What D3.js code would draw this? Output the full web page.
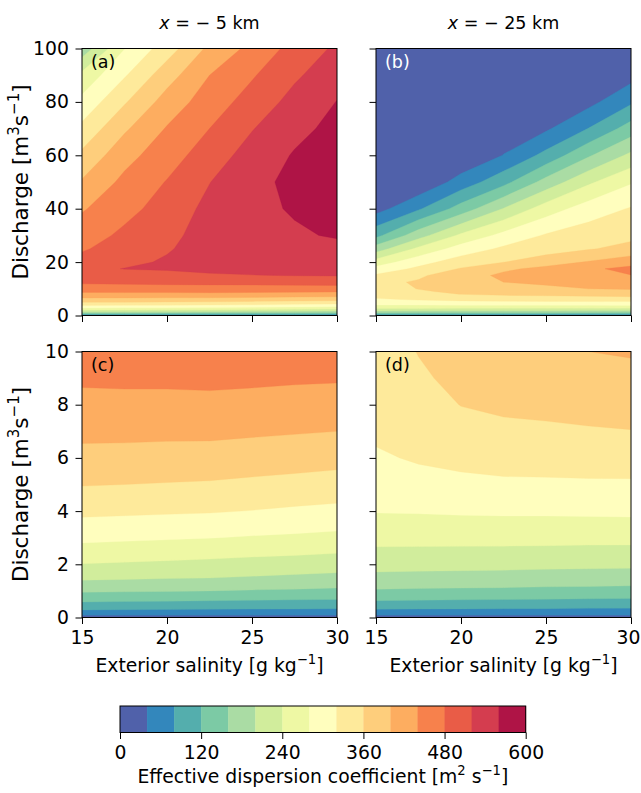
<!DOCTYPE html>
<html><head><meta charset="utf-8">
<script src="https://cdn.jsdelivr.net/npm/d3@7"></script>
<style>body{margin:0;background:#fff} svg text{font-family:"DejaVu Sans",sans-serif}</style>
</head><body><svg id="chart" width="641" height="793"></svg>
<script>
// ---------------- data ----------------
const salinity = [15, 17.5, 20, 22.5, 25, 27.5, 30];
const discharge = [0, 0.1, 0.25, 0.5, 1, 1.5, 2, 3, 4, 5, 6, 7, 8, 9, 10, 12.5, 15, 17.5, 20, 25, 30, 40, 50, 60, 70, 80, 90, 100];
const levels = [0, 40, 80, 120, 160, 200, 240, 280, 320, 360, 400, 440, 480, 520, 560, 600];
const salinityTicks = [15, 20, 25, 30];
const dischargeTicksFull = [0, 20, 40, 60, 80, 100];
const dischargeTicksLow = [0, 2, 4, 6, 8, 10];
const colorbarTicks = [0, 120, 240, 360, 480, 600];

// effective dispersion coefficient at x = -5 km (rows: discharge, cols: salinity)
const dispX5 = [
  [0, 0, 0, 0, 0, 0, 0],
  [49, 48, 48, 47, 47, 46, 46],
  [75, 74, 73, 72, 71, 71, 70],
  [111, 109, 108, 106, 105, 103, 102],
  [166, 164, 162, 160, 157, 155, 152],
  [208, 206, 203, 201, 197, 193, 189],
  [239, 236, 233, 230, 226, 223, 219],
  [290, 287, 284, 281, 277, 274, 270],
  [329, 327, 325, 323, 319, 314, 310],
  [362, 360, 358, 356, 352, 348, 344],
  [388, 387, 385, 384, 380, 377, 373],
  [410, 410, 409, 409, 406, 403, 400],
  [429, 430, 430, 431, 428, 425, 422],
  [446, 447, 447, 448, 447, 445, 444],
  [460, 461, 462, 463, 463, 462, 462],
  [487, 489, 491, 492, 493, 495, 498],
  [501, 505, 511, 516, 519, 521, 522],
  [511, 521, 523, 528, 530, 532, 529],
  [496, 512, 524, 532, 538, 541, 536],
  [475, 501, 517, 535, 545, 551, 551],
  [462, 488, 510, 536, 549, 556, 563],
  [436, 468, 496, 531, 552, 563, 576],
  [404, 450, 482, 519, 553, 566, 581],
  [369, 426, 463, 499, 537, 563, 578],
  [330, 394, 443, 480, 518, 550, 570],
  [291, 356, 417, 460, 496, 533, 561],
  [251, 316, 383, 440, 476, 514, 544],
  [175, 279, 341, 409, 451, 494, 527]
];

// effective dispersion coefficient at x = -25 km
const dispX25 = [
  [0, 0, 0, 0, 0, 0, 0],
  [48, 47, 47, 47, 46, 46, 46],
  [71, 70, 70, 69, 69, 68, 67],
  [107, 106, 104, 103, 102, 100, 99],
  [156, 154, 153, 152, 150, 149, 147],
  [189, 187, 186, 185, 183, 182, 181],
  [215, 214, 213, 212, 210, 209, 208],
  [253, 253, 253, 253, 253, 252, 252],
  [282, 283, 285, 286, 286, 287, 288],
  [298, 307, 311, 314, 314, 315, 315],
  [315, 324, 330, 334, 336, 337, 338],
  [327, 333, 345, 353, 355, 357, 359],
  [334, 342, 361, 366, 368, 372, 375],
  [340, 356, 367, 373, 378, 386, 391],
  [345, 361, 373, 380, 388, 400, 403],
  [350, 364, 383, 400, 410, 418, 422],
  [326, 354, 382, 408, 419, 432, 439],
  [293, 329, 363, 393, 410, 433, 451],
  [258, 305, 340, 359, 384, 403, 424],
  [180, 249, 297, 327, 340, 357, 372],
  [109, 184, 248, 292, 324, 341, 350],
  [24, 75, 137, 202, 260, 299, 323],
  [12, 6, 56, 107, 175, 233, 276],
  [6, 4, 5, 41, 92, 155, 209],
  [3, 2, 3, 20, 34, 81, 138],
  [2, 1, 2, 10, 20, 28, 74],
  [1, 1, 1, 5, 10, 14, 25],
  [0, 0, 0, 2, 5, 7, 12]
];

// ---------------- colours (Spectral_r, contourf-style: layer midpoints over level range) ----------------
const spectralR = ["#5e4fa2","#3288bd","#66c2a5","#abdda4","#e6f598","#ffffbf","#fee08b","#fdae61","#f46d43","#d53e4f","#9e0142"];
const cmap = d3.piecewise(d3.interpolateRgb, spectralR);
const vmin = levels[0], vmax = levels[levels.length - 1];
const nBands = levels.length - 1;
function bandColor(k) {
  const mid = (levels[k] + levels[k + 1]) / 2;
  const x = (mid - vmin) / (vmax - vmin);
  const idx = Math.min(255, Math.floor(x * 256));
  return cmap(idx / 255);
}

// ---------------- helpers ----------------
function idxInterp(arr, f) {
  f = Math.max(0, Math.min(arr.length - 1, f));
  const i = Math.min(arr.length - 2, Math.floor(f));
  return arr[i] + (arr[i + 1] - arr[i]) * (f - i);
}
function buildContours(grid) {
  const n = salinity.length, m = discharge.length;
  const flat = [];
  for (let j = 0; j < m; j++) for (let i = 0; i < n; i++) flat.push(grid[j][i]);
  return d3.contours().size([n, m]).thresholds(levels.slice(0, -1))(flat);
}
function mathText(sel, parts, fs) {
  const sup = fs * 0.7, shift = fs * 0.4;
  let raised = false;
  parts.forEach(p => {
    const t = sel.append("tspan").text(p.t);
    if (p.sup) {
      t.attr("font-size", sup).attr("dy", raised ? 0 : -shift);
      raised = true;
    } else {
      t.attr("font-size", fs);
      if (raised) { t.attr("dy", shift); raised = false; }
    }
  });
}

const svg = d3.select("#chart");
const FS = 18.8;
const FS_YLABEL = 21.5;
const TICK = 6.5, PAD = 6.6;

const contoursX5 = buildContours(dispX5);
const contoursX25 = buildContours(dispX25);

const panels = [
  {id: "a", cont: contoursX5, x0: 82, x1: 337, y0: 48.5, y1: 315.5, qmax: 100, qt: dischargeTicksFull, showY: true, showX: false, label: "(a)", lc: "#000"},
  {id: "b", cont: contoursX25, x0: 376, x1: 631, y0: 48.5, y1: 315.5, qmax: 100, qt: dischargeTicksFull, showY: false, showX: false, label: "(b)", lc: "#fff"},
  {id: "c", cont: contoursX5, x0: 82, x1: 337, y0: 351.5, y1: 617.5, qmax: 10, qt: dischargeTicksLow, showY: true, showX: true, label: "(c)", lc: "#000"},
  {id: "d", cont: contoursX25, x0: 376, x1: 631, y0: 351.5, y1: 617.5, qmax: 10, qt: dischargeTicksLow, showY: false, showX: true, label: "(d)", lc: "#000"}
];

const defs = svg.append("defs");

panels.forEach(p => {
  const xs = d3.scaleLinear().domain([salinity[0], salinity[salinity.length - 1]]).range([p.x0, p.x1]);
  const ys = d3.scaleLinear().domain([0, p.qmax]).range([p.y1, p.y0]);
  defs.append("clipPath").attr("id", "clip-" + p.id)
    .append("rect").attr("x", p.x0).attr("y", p.y0).attr("width", p.x1 - p.x0).attr("height", p.y1 - p.y0);
  const proj = d3.geoTransform({
    point: function(x, y) {
      this.stream.point(xs(idxInterp(salinity, x - 0.5)), ys(idxInterp(discharge, y - 0.5)));
    }
  });
  const path = d3.geoPath(proj);
  const g = svg.append("g");
  g.append("g").attr("clip-path", `url(#clip-${p.id})`)
    .selectAll("path").data(p.cont).join("path")
    .attr("d", path)
    .attr("fill", d => bandColor(levels.indexOf(d.value)))
    .attr("stroke", d => bandColor(levels.indexOf(d.value)))
    .attr("stroke-width", 0.3);

  // axes
  const xAxis = d3.axisBottom(xs).tickValues(salinityTicks).tickSize(TICK).tickSizeOuter(0).tickPadding(PAD);
  if (!p.showX) xAxis.tickFormat("");
  const gx = g.append("g").attr("transform", `translate(0,${p.y1})`).call(xAxis);
  const yAxis = d3.axisLeft(ys).tickValues(p.qt).tickSize(TICK).tickSizeOuter(0).tickPadding(PAD);
  if (!p.showY) yAxis.tickFormat("");
  const gy = g.append("g").attr("transform", `translate(${p.x0},0)`).call(yAxis);
  [gx, gy].forEach(a => {
    a.select(".domain").remove();
    a.selectAll("line").attr("stroke", "#000").attr("stroke-width", 1);
    a.selectAll("text").attr("font-size", FS).attr("font-family", "DejaVu Sans").attr("fill", "#000");
  });
  if (p.showX && p.x1 > 600) {
    // keep the last label inside the picture
    gx.selectAll(".tick").filter(d => d === salinityTicks[salinityTicks.length - 1]).select("text").attr("dx", -3);
  }

  g.append("rect").attr("x", p.x0).attr("y", p.y0).attr("width", p.x1 - p.x0).attr("height", p.y1 - p.y0)
    .attr("fill", "none").attr("stroke", "#000").attr("stroke-width", 1);

  g.append("text").attr("x", p.x0 + 9).attr("y", p.y0 + 19.5).attr("font-size", 17.5).attr("fill", p.lc).text(p.label);

  if (p.showY) {
    const cy = (p.y0 + p.y1) / 2;
    const t = g.append("text").attr("transform", `translate(28,${cy}) rotate(-90)`).attr("text-anchor", "middle").attr("fill", "#000");
    mathText(t, [{t: "Discharge [m"}, {t: "3", sup: true}, {t: "s"}, {t: "−1", sup: true}, {t: "]"}], FS_YLABEL);
  }
  if (p.showX) {
    const cx = (p.x0 + p.x1) / 2;
    const t = g.append("text").attr("x", cx).attr("y", 672).attr("text-anchor", "middle").attr("fill", "#000");
    mathText(t, [{t: "Exterior salinity [g kg"}, {t: "−1", sup: true}, {t: "]"}], FS);
  }
});

// titles
const titles = [{x: (82 + 337) / 2, km: "5"}, {x: (376 + 631) / 2, km: "25"}];
titles.forEach(tt => {
  const t = svg.append("text").attr("x", tt.x).attr("y", 29).attr("text-anchor", "middle").attr("font-size", 17.5).attr("fill", "#000");
  t.append("tspan").attr("font-style", "italic").text("x");
  t.append("tspan").text(" = − " + tt.km + " km");
});

// colorbar
const cb = {x0: 120, x1: 525.7, y0: 706, y1: 732.5};
const cbScale = d3.scaleLinear().domain([vmin, vmax]).range([cb.x0, cb.x1]);
const gcb = svg.append("g");
gcb.selectAll("rect.band").data(d3.range(nBands)).join("rect")
  .attr("class", "band")
  .attr("x", k => cbScale(levels[k]))
  .attr("width", k => cbScale(levels[k + 1]) - cbScale(levels[k]) + 0.4)
  .attr("y", cb.y0).attr("height", cb.y1 - cb.y0)
  .attr("fill", k => bandColor(k));
gcb.append("rect").attr("x", cb.x0).attr("y", cb.y0).attr("width", cb.x1 - cb.x0).attr("height", cb.y1 - cb.y0)
  .attr("fill", "none").attr("stroke", "#000").attr("stroke-width", 1);
const cbAxis = d3.axisBottom(cbScale).tickValues(colorbarTicks).tickSize(TICK).tickSizeOuter(0).tickPadding(PAD);
const gcba = gcb.append("g").attr("transform", `translate(0,${cb.y1})`).call(cbAxis);
gcba.select(".domain").remove();
gcba.selectAll("line").attr("stroke", "#000").attr("stroke-width", 1);
gcba.selectAll("text").attr("font-size", FS).attr("font-family", "DejaVu Sans").attr("fill", "#000");
const cbt = svg.append("text").attr("x", (cb.x0 + cb.x1) / 2).attr("y", 783).attr("text-anchor", "middle").attr("fill", "#000");
mathText(cbt, [{t: "Effective dispersion coefficient [m"}, {t: "2", sup: true}, {t: " s"}, {t: "−1", sup: true}, {t: "]"}], FS);
</script>
</body></html>
